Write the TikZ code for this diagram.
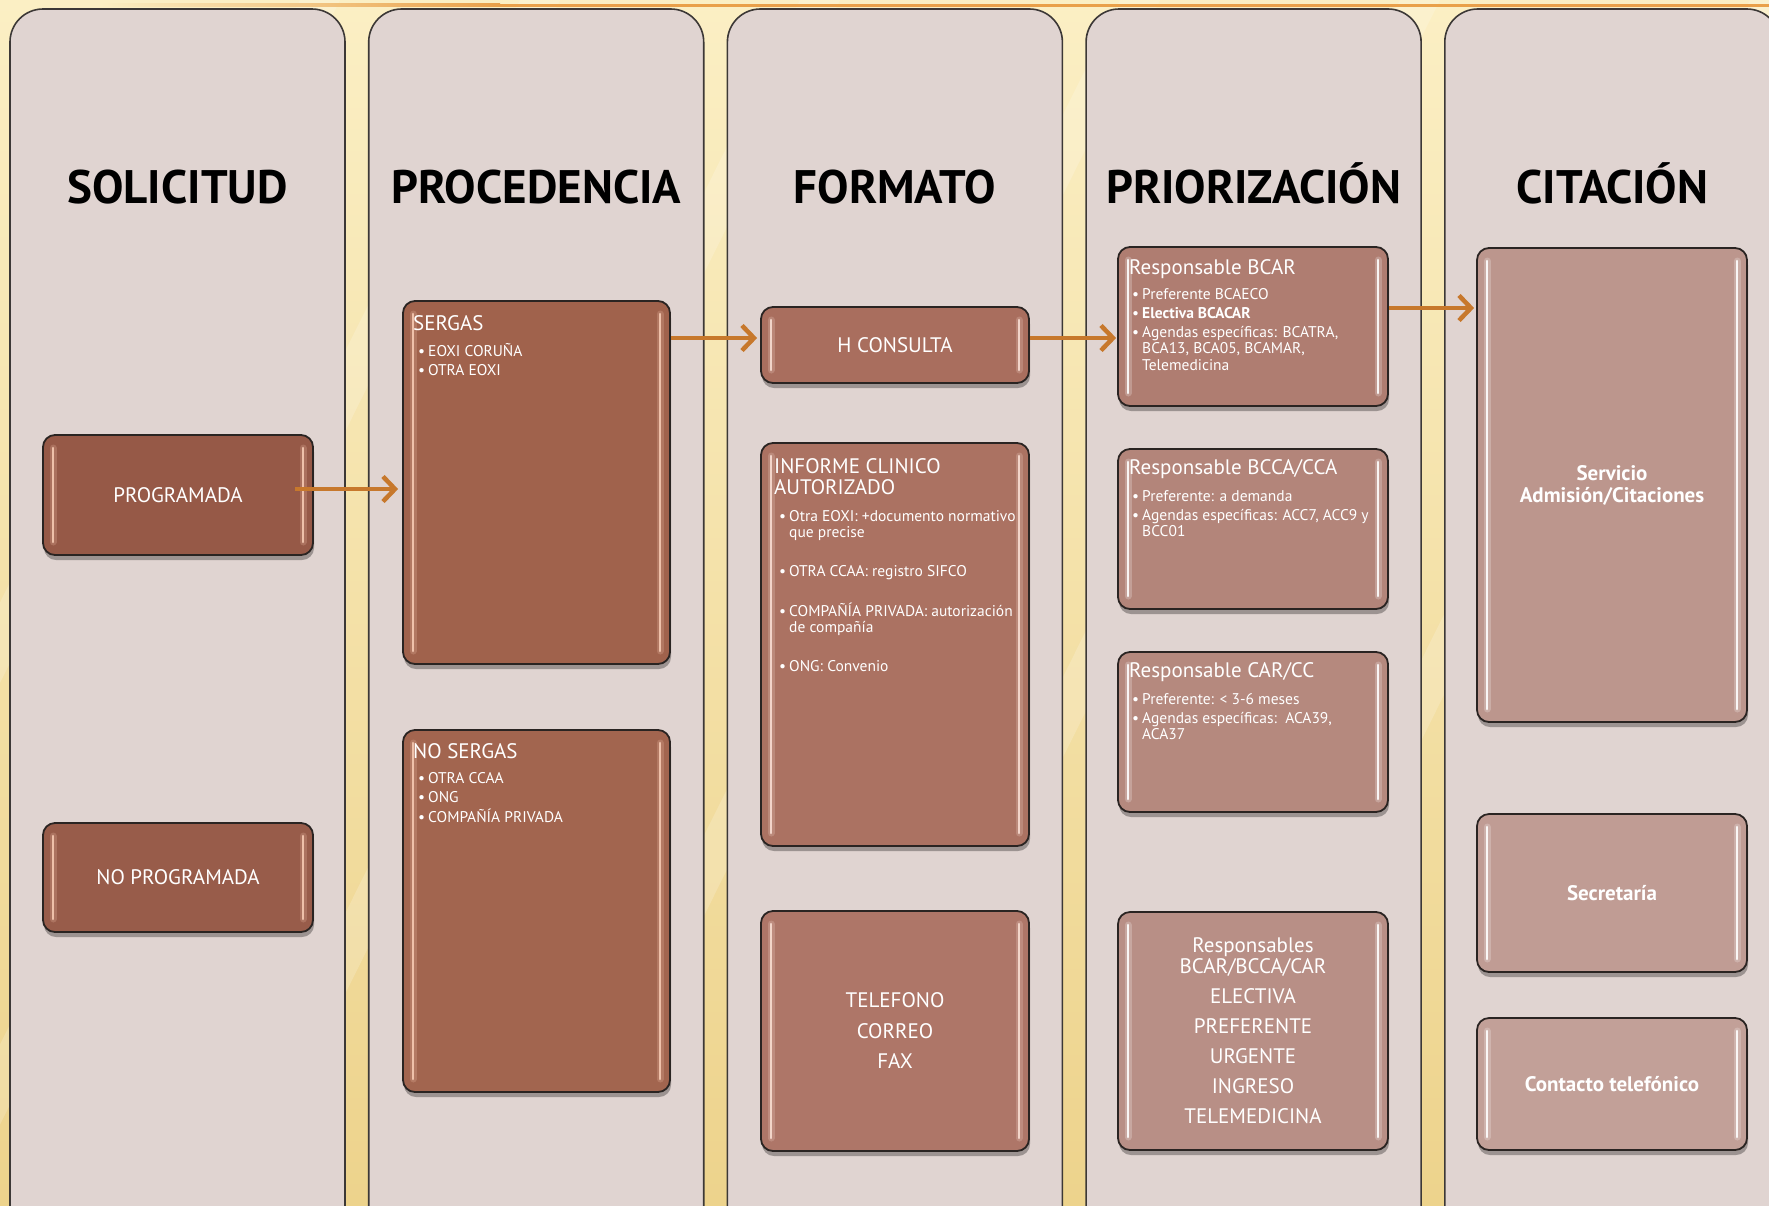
\documentclass[tikz,border=0pt]{standalone}
\usepackage{fontspec}
\setmainfont{PT Sans}
\usetikzlibrary{arrows.meta,shadows}
\definecolor{bgtop}{HTML}{FBEFC4}
\definecolor{bgbot}{HTML}{EDD38C}
\definecolor{colbg}{HTML}{E0D4D1}
\definecolor{colline}{HTML}{3C3836}
\definecolor{boxline}{HTML}{2A2422}
\definecolor{arrowc}{HTML}{C7782C}
\definecolor{topline}{HTML}{E9A04A}
\definecolor{cA}{HTML}{965947}
\definecolor{cAb}{HTML}{985C4A}
\definecolor{cB}{HTML}{A0624C}
\definecolor{cBb}{HTML}{A2654F}
\definecolor{cC}{HTML}{A96E5E}
\definecolor{cCb}{HTML}{AB7262}
\definecolor{cCc}{HTML}{AE7668}
\definecolor{cD}{HTML}{AF7D71}
\definecolor{cDb}{HTML}{B3857A}
\definecolor{cDc}{HTML}{B5897E}
\definecolor{cDd}{HTML}{B88F86}
\definecolor{cE}{HTML}{BC968D}
\definecolor{cEb}{HTML}{C09C94}
\definecolor{cEc}{HTML}{C2A098}
\definecolor{peach}{HTML}{F6C9B2}
\definecolor{pale}{HTML}{F8DDD2}
\newcommand\ttlf{\fontsize{47}{56}\selectfont\bfseries}
\newcommand\hdf{\fontsize{21}{21}\selectfont}
\newcommand\hdsf{\fontsize{21}{21}\selectfont}
\newcommand\bxf{\fontsize{21}{24}\selectfont}
\newcommand\blf{\fontsize{15.5}{16.5}\selectfont}
\newcommand\bi{\textbullet\hspace{3pt}}
\newcommand\bc{\phantom{\textbullet}\hspace{3pt}}
\newcommand\lst[1]{\begin{tabular}[t]{@{}l@{}}#1\end{tabular}}
\tikzset{
  column/.style={fill=colbg, draw=colline, line width=1.6pt, rounded corners=33pt},
  strips/.style={path picture={
     \foreach \lw/\op in {7pt/0.22, 2.6pt/0.9}{
       \draw[#1, line width=\lw, opacity=\op, line cap=round]
         ([xshift=10pt,yshift=-13pt]path picture bounding box.north west) --
         ([xshift=10pt,yshift=13pt]path picture bounding box.south west);
       \draw[#1, line width=\lw, opacity=\op, line cap=round]
         ([xshift=-10pt,yshift=-13pt]path picture bounding box.north east) --
         ([xshift=-10pt,yshift=13pt]path picture bounding box.south east);
     }}},
  box/.style 2 args={rectangle, draw=boxline, line width=1.8pt, rounded corners=12pt,
     fill=#1, strips=#2, text=white, font=\bxf, inner sep=0pt, align=center,
     drop shadow={shadow xshift=1pt, shadow yshift=-5pt, opacity=0.3, fill=black}},
  ttl/.style={anchor=base, font=\ttlf, text=black, inner sep=0pt},
  hd/.style={anchor=base west, font=\hdf, text=white, inner sep=0pt},
  hds/.style={anchor=base west, font=\hdsf, text=white, inner sep=0pt},
  bl/.style={anchor=base west, font=\blf, text=white, inner sep=0pt},
  bfbox/.style={font=\fontsize{21}{22}\selectfont\bfseries},
  arr/.style={draw=arrowc, line width=4.5pt, -{Straight Barb[length=12pt,width=25pt]}},
}
\begin{document}
\begin{tikzpicture}[x=1pt,y=-1pt]
\useasboundingbox (0,0) rectangle (1769,1205);
\begin{scope}
\clip (0,0) rectangle (1769,1205);
\shade[top color=bgtop, bottom color=bgbot] (0,0) rectangle (1769,1205);
\foreach \xx in {-300,-80,200,520,800,1150,1450}{
  \fill[white, opacity=0.18] (\xx,1205) -- (\xx+40,1205) -- (\xx+640,0) -- (\xx+600,0) -- cycle;
}
\shade[left color=bgtop, right color=topline] (100,3.5) rectangle (500,6.5);
\fill[topline] (500,3.5) rectangle (1769,6.5);
\foreach \k in {0,...,4}{
  \draw[column] ({10+358.7*\k},9) rectangle ({345+358.7*\k},1240);
}
\end{scope}

% titles
\node[ttl] (t1) at (177.5,203) {SOLICITUD};
\node[ttl] (t2) at (536.2,203) {PROCEDENCIA};
\node[ttl] (t3) at (894.9,203) {FORMATO};
\node[ttl] (t4) at (1253.6,203) {PRIORIZACIÓN};
\node[ttl] (t5) at (1612.3,203) {CITACIÓN};

% column 1
\node[box={cA}{peach}, minimum width=270pt, minimum height=120pt] (prog) at (178,495) {PROGRAMADA};
\node[box={cAb}{peach}, minimum width=270pt, minimum height=109pt] (noprog) at (178,877.5) {NO PROGRAMADA};

% column 2
\node[box={cB}{peach}, minimum width=267pt, minimum height=363pt] (sergas) at (536.5,482.5) {};
\node[hd] (sergasH) at (413,330) {SERGAS};
\node[bl] (sergasB) at (418,356) {\lst{\bi EOXI CORUÑA\\[2.5pt]\bi OTRA EOXI}};
\node[box={cBb}{peach}, minimum width=267pt, minimum height=362pt] (nosergas) at (536.5,911) {};
\node[hd] (nosergasH) at (413,758) {NO SERGAS};
\node[bl] (nosergasB) at (418,783) {\lst{\bi OTRA CCAA\\[2.5pt]\bi ONG\\[2.5pt]\bi COMPAÑÍA PRIVADA}};

% column 3
\node[box={cC}{pale}, minimum width=268pt, minimum height=76pt] (hc) at (895,345) {H CONSULTA};
\node[box={cCb}{pale}, minimum width=268pt, minimum height=403pt] (inf) at (895,644.5) {};
\node[hd] (infH) at (774,473) {\lst{INFORME CLINICO\\AUTORIZADO}};
\node[bl] (infB) at (779,521) {\lst{\bi Otra EOXI: +documento normativo\\\bc que precise\\[22pt]
  \bi OTRA CCAA: registro SIFCO\\[22pt]
  \bi COMPAÑÍA PRIVADA: autorización\\\bc de compañía\\[22pt]
  \bi ONG: Convenio}};
\node[box={cCc}{pale}, minimum width=268pt, minimum height=240pt,
      font=\fontsize{21}{30.5}\selectfont] (tel) at (895,1031) {TELEFONO\\CORREO\\FAX};

% column 4
\node[box={cD}{white}, minimum width=270pt, minimum height=159pt] (bcar) at (1253,326.5) {};
\node[hds] (bcarH) at (1129,274) {Responsable BCAR};
\node[bl] (bcarB) at (1132,299) {\lst{\bi Preferente BCAECO\\[2.5pt]\bi \textbf{Electiva BCACAR}\\[2.5pt]
  \bi Agendas específicas: BCATRA,\\\bc BCA13, BCA05, BCAMAR,\\\bc Telemedicina}};
\node[box={cDb}{white}, minimum width=270pt, minimum height=160pt] (bcca) at (1253,529) {};
\node[hds] (bccaH) at (1129,474) {Responsable BCCA/CCA};
\node[bl] (bccaB) at (1132,501) {\lst{\bi Preferente: a demanda\\[2.5pt]
  \bi Agendas específicas: ACC7, ACC9 y\\\bc BCC01}};
\node[box={cDc}{white}, minimum width=270pt, minimum height=160pt] (car) at (1253,732) {};
\node[hds] (carH) at (1129,677) {Responsable CAR/CC};
\node[bl] (carB) at (1132,704) {\lst{\bi Preferente: < 3-6 meses\\[2.5pt]
  \bi Agendas específicas:\ \ ACA39,\\\bc ACA37}};
\node[box={cDd}{white}, minimum width=270pt, minimum height=238pt,
      font=\fontsize{21}{21}\selectfont] (resp) at (1253,1031)
  {Responsables\\BCAR/BCCA/CAR\\[9pt]ELECTIVA\\[9pt]PREFERENTE\\[9pt]URGENTE\\[9pt]INGRESO\\[9pt]TELEMEDICINA};

% column 5
\node[box={cE}{white}, minimum width=270pt, minimum height=474pt, bfbox] (serv) at (1612,485) {Servicio\\Admisión/Citaciones};
\node[box={cEb}{white}, minimum width=270pt, minimum height=158pt, bfbox] (sec) at (1612,893) {Secretaría};
\node[box={cEc}{white}, minimum width=270pt, minimum height=132pt, bfbox] (cont) at (1612,1084) {Contacto telefónico};

% arrows
\coordinate (a1s) at ([xshift=-19pt,yshift=6pt]prog.east);
\draw[arr, shorten >=4pt] (a1s) -- (a1s -| sergas.west);
\coordinate (a2e) at ([yshift=7pt]hc.west);
\draw[arr, shorten >=3pt] (a2e -| sergas.east) -- (a2e);
\coordinate (a3s) at ([yshift=7pt]hc.east);
\draw[arr, shorten >=1pt] (a3s) -- (a3s -| bcar.west);
\coordinate (a4s) at ([yshift=18.5pt]bcar.east);
\draw[arr, shorten >=2pt] (a4s) -- (a4s -| serv.west);
\end{tikzpicture}
\end{document}
